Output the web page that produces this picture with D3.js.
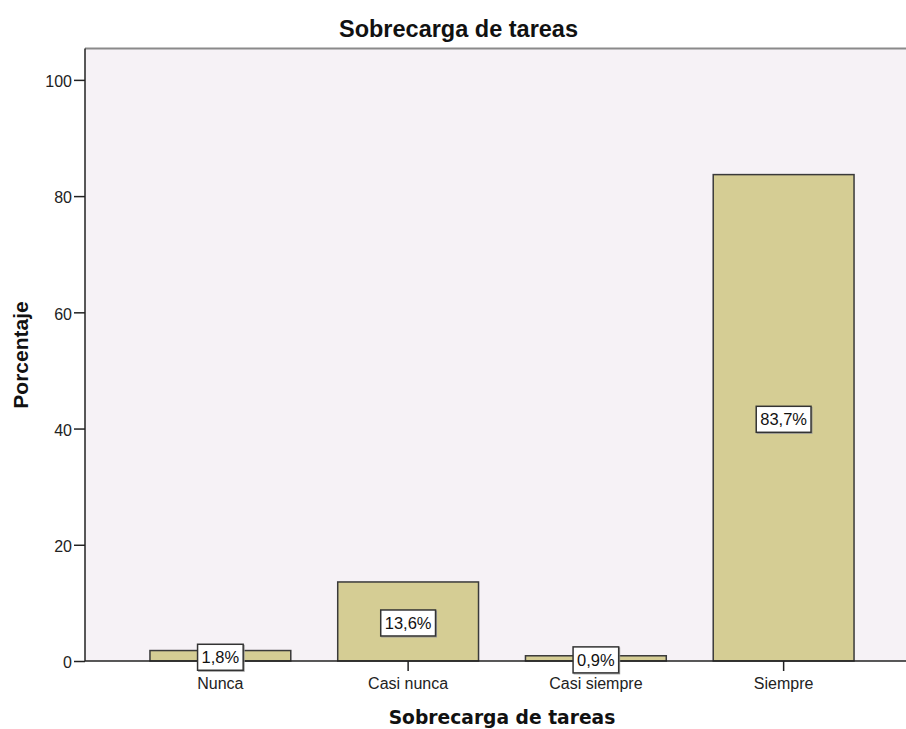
<!DOCTYPE html>
<html><head><meta charset="utf-8">
<script src="https://cdn.jsdelivr.net/npm/d3@7"></script>
<style>body{margin:0;background:#fff}svg{display:block}</style>
</head><body>
<svg id="c" width="906" height="729"></svg>
<script>
const categories = ["Nunca", "Casi nunca", "Casi siempre", "Siempre"];
const values = [1.8, 13.6, 0.9, 83.7];
const yTicks = [0, 20, 40, 60, 80, 100];
const title = "Sobrecarga de tareas";
const xTitle = "Sobrecarga de tareas";
const yTitle = "Porcentaje";

const svg = d3.select("#c");
const W = 906, H = 729;
const plot = {left: 85, top: 48.5, right: 919, bottom: 661};

const x = d3.scaleBand().domain(categories).range([plot.left, plot.right])
  .paddingInner(0.25).paddingOuter(0.346);
const y = d3.scaleLinear().domain([0, 105.4]).range([plot.bottom, plot.top]);

// plot background
svg.append("rect").attr("x", plot.left).attr("y", plot.top)
  .attr("width", plot.right - plot.left).attr("height", plot.bottom - plot.top)
  .attr("fill", "#F6F2F6");
// top frame line
svg.append("line").attr("x1", plot.left).attr("x2", W).attr("y1", plot.top).attr("y2", plot.top)
  .attr("stroke", "#8a8a8a").attr("stroke-width", 2);

// bars
svg.selectAll("rect.bar").data(values).join("rect").attr("class", "bar")
  .attr("x", (d, i) => x(categories[i]))
  .attr("y", d => y(d))
  .attr("width", x.bandwidth())
  .attr("height", d => y(0) - y(d))
  .attr("fill", "#D5CD94").attr("stroke", "#3a3a3a").attr("stroke-width", 1.5);

// axes
const yAxis = d3.axisLeft(y).tickValues(yTicks).tickSize(11).tickPadding(2);
const gy = svg.append("g").attr("transform", `translate(${plot.left},0)`).call(yAxis);
gy.select(".domain").remove();
gy.selectAll("line").attr("stroke", "#222").attr("stroke-width", 1.5);
gy.selectAll("text").attr("font-family", "'Liberation Sans', Arial, sans-serif")
  .attr("font-size", 16).attr("fill", "#222").attr("dy", "0.42em");

const xAxis = d3.axisBottom(x).tickSize(10).tickPadding(7);
const gx = svg.append("g").attr("transform", `translate(0,${plot.bottom})`).call(xAxis);
gx.select(".domain").remove();
gx.selectAll("line").attr("stroke", "#222").attr("stroke-width", 1.5);
gx.selectAll("text").attr("font-family", "'Liberation Sans', Arial, sans-serif")
  .attr("font-size", 16).attr("fill", "#222");

// axis lines
svg.append("line").attr("x1", plot.left).attr("x2", plot.left).attr("y1", plot.top).attr("y2", plot.bottom)
  .attr("stroke", "#222").attr("stroke-width", 1.5);
svg.append("line").attr("x1", plot.left).attr("x2", W).attr("y1", plot.bottom).attr("y2", plot.bottom)
  .attr("stroke", "#222").attr("stroke-width", 1.5);

// value labels
const fmt = v => v.toFixed(1).replace(".", ",") + "%";
const lg = svg.selectAll("g.lab").data(values).join("g").attr("class", "lab")
  .attr("transform", (d, i) => `translate(${x(categories[i]) + x.bandwidth() / 2},${y(d / 2) + 1.5})`);
const shadows = lg.append("rect").attr("fill", "none").attr("stroke", "#999").attr("stroke-width", 1);
const rects = lg.append("rect").attr("fill", "#fff").attr("stroke", "#333").attr("stroke-width", 1.5);
const texts = lg.append("text").text(d => fmt(d))
  .attr("text-anchor", "middle").attr("dy", "0.36em")
  .attr("font-family", "'Liberation Sans', Arial, sans-serif").attr("font-size", 16.5).attr("fill", "#111");
texts.each(function(d, i) {
  const w = this.getComputedTextLength();
  d3.select(rects.nodes()[i]).attr("x", -w / 2 - 4).attr("y", -13).attr("width", w + 8).attr("height", 26);
  d3.select(shadows.nodes()[i]).attr("x", -w / 2 - 3).attr("y", -12).attr("width", w + 8).attr("height", 26);
});

// titles
svg.append("text").text(title).attr("x", 458.5).attr("y", 37).attr("text-anchor", "middle")
  .attr("font-family", "'Liberation Sans', Arial, sans-serif").attr("font-weight", "bold")
  .attr("font-size", 23.5).attr("fill", "#111");
svg.append("text").text(xTitle).attr("x", (plot.left + plot.right) / 2).attr("y", 724).attr("text-anchor", "middle")
  .attr("font-family", "'DejaVu Sans', Verdana, sans-serif").attr("font-weight", "bold")
  .attr("font-size", 18.7).attr("fill", "#111");
svg.append("text").text(yTitle)
  .attr("transform", `translate(28,355) rotate(-90)`).attr("text-anchor", "middle")
  .attr("font-family", "'Liberation Sans', Arial, sans-serif").attr("font-weight", "bold")
  .attr("font-size", 21).attr("fill", "#111");
</script>
</body></html>
